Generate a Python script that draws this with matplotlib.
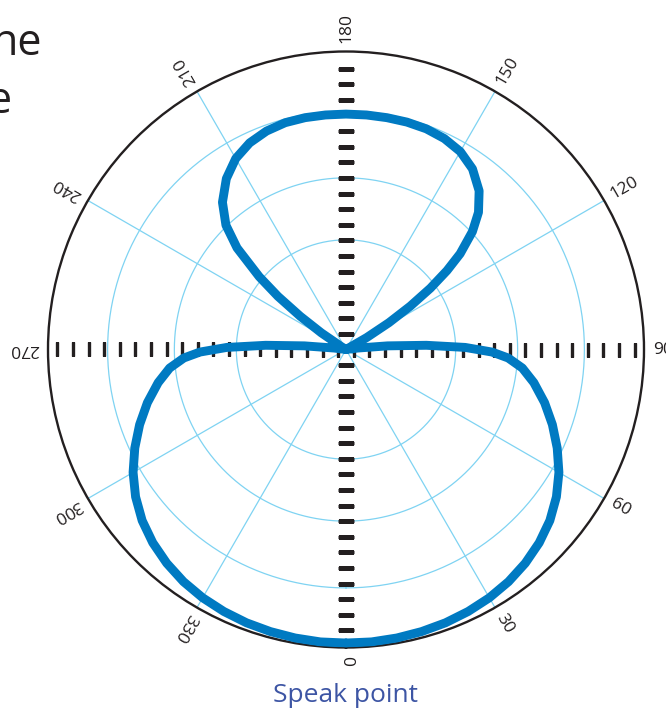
import numpy as np
import matplotlib
matplotlib.use("Agg")
import matplotlib.pyplot as plt

# pickup pattern, right half (0..180) and left half (180..360)
right_deg = [0, 5, 10, 15, 20, 25, 30, 35, 40, 45, 50, 55, 60, 65, 70, 75, 80,
             84, 87, 89, 91, 93, 95, 97, 99, 118, 120, 122, 124, 126, 128, 130,
             133, 136, 140, 145, 150, 155, 160, 165, 170, 175]
right_r = [0.985, 0.985, 0.983, 0.98, 0.976, 0.97, 0.962, 0.951, 0.936, 0.917,
           0.893, 0.862, 0.825, 0.782, 0.737, 0.69, 0.64,
           0.595, 0.545, 0.49, 0.40, 0.27, 0.14, 0.04, 0.0, 0.0, 0.08, 0.17,
           0.26, 0.35, 0.43, 0.50, 0.58, 0.64, 0.695, 0.74, 0.767, 0.781,
           0.788, 0.79, 0.79, 0.79]
left_deg = [180, 185, 190, 195, 200, 205, 210, 215, 220, 224, 227, 230, 232, 234,
            236, 238, 240, 261, 263, 265, 267, 269, 271, 273, 276, 280, 285, 290,
            295, 300, 305, 310, 315, 320, 325, 330, 335, 340, 345, 350, 355, 360]
left_r = [0.79, 0.79, 0.79, 0.788, 0.78, 0.765, 0.74, 0.70, 0.645, 0.58, 0.50,
          0.38, 0.29, 0.19, 0.10, 0.02, 0.0, 0.0, 0.04, 0.14, 0.27, 0.40, 0.49,
          0.545, 0.595, 0.64, 0.69, 0.737, 0.782, 0.825, 0.862, 0.893, 0.917,
          0.936, 0.951, 0.962, 0.97, 0.976, 0.98, 0.983, 0.985, 0.985]

ring_r = [0.368, 0.576, 0.80]
spoke_deg = [30, 60, 120, 150, 210, 240, 300, 330]
label_deg = [0, 30, 60, 90, 120, 150, 180, 210, 240, 270, 300, 330]
caption = "Speak point"
corner_text = ["ne", "e"]

CURVE = "#007ac2"
GRID = "#7fd3f2"
INK = "#231f20"

deg = np.array(right_deg + left_deg)
r = np.array(right_r + left_r)

fig = plt.figure(figsize=(6.66, 7.10), dpi=100)
W, H = 666, 710
cx, cy, R = 346, 349.5, 298
ax = fig.add_axes([(cx - R) / W, (H - cy - R) / H, 2 * R / W, 2 * R / H], projection="polar")
ax.set_theta_zero_location("S")
ax.set_theta_direction(1)
ax.set_ylim(0, 1)
ax.set_xticks([])
ax.set_yticks([])
ax.grid(False)
ax.spines["polar"].set_color(INK)
ax.spines["polar"].set_linewidth(1.7)

full = np.linspace(0, 2 * np.pi, 361)
for rr in ring_r:
    ax.plot(full, np.full_like(full, rr), color=GRID, lw=0.9, zorder=1)
for d in spoke_deg:
    ax.plot([np.radians(d)] * 2, [0, 1], color=GRID, lw=0.9, zorder=1)

# dashes along the two axes (vertical ones on whole steps, horizontal ones on half steps)
step = 15.6 / R
v_down = np.arange(20) * step
v_up = np.arange(19) * step
h_r = (np.arange(19) + 0.5) * step
ax.plot(np.zeros_like(v_down), v_down, ls="none", marker="_", ms=11.5, mew=2.3, color=INK, zorder=2)
ax.plot(np.full_like(v_up, np.pi), v_up, ls="none", marker="_", ms=11.5, mew=2.3, color=INK, zorder=2)
ax.plot(np.full_like(h_r, np.pi / 2), h_r, ls="none", marker="|", ms=10.5, mew=2.4, color=INK, zorder=2)
ax.plot(np.full_like(h_r, 3 * np.pi / 2), h_r, ls="none", marker="|", ms=10.5, mew=2.4, color=INK, zorder=2)

ax.plot(np.radians(deg), r, color=CURVE, lw=6.4, solid_joinstyle="round",
        solid_capstyle="round", zorder=3)

for d in label_deg:
    ax.text(np.radians(d), 1.03, str(d), rotation=d - 90, rotation_mode="anchor",
            ha="left", va="center", fontsize=12.5, family="Open Sans", color=INK, clip_on=False)

fig.text(cx / W, 1 - 702 / H, caption, ha="center", va="baseline", fontsize=19,
         family="Open Sans", color="#3d55a4")
fig.text(42 / W, 1 - 55 / H, corner_text[0], ha="right", va="baseline", fontsize=31,
         family="Open Sans", color=INK)
fig.text(12 / W, 1 - 113 / H, corner_text[1], ha="right", va="baseline", fontsize=31,
         family="Open Sans", color=INK)

fig.savefig("out.png", dpi=100)
